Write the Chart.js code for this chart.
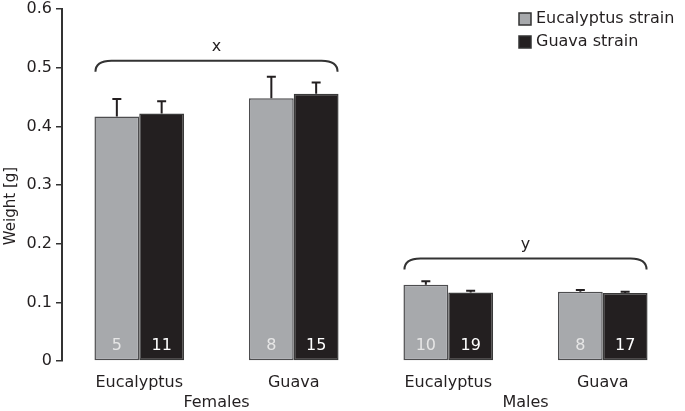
<!DOCTYPE html>
<html><head><meta charset="utf-8">
<script src="https://cdn.jsdelivr.net/npm/chart.js@4"></script>
<style>html,body{margin:0;padding:0;background:#fff}#wrap{width:685px;height:411px}</style>
</head><body><div id="wrap"><canvas id="c" width="685" height="411"></canvas></div>
<script>
const categories = ['Eucalyptus', 'Guava', 'Eucalyptus', 'Guava'];
const groups = ['Females', 'Males'];
const seriesNames = ['Eucalyptus strain', 'Guava strain'];
const eucalyptusStrain = [0.417, 0.448, 0.130, 0.118];
const guavaStrain = [0.422, 0.456, 0.117, 0.116];
const eucalyptusErrTop = [0.447, 0.485, 0.136, 0.121];
const guavaErrTop = [0.443, 0.475, 0.120, 0.118];
const eucalyptusN = [5, 8, 10, 8];
const guavaN = [11, 15, 19, 17];
const yTicks = [0, 0.1, 0.2, 0.3, 0.4, 0.5, 0.6];
const yTitle = 'Weight [g]';
const braceLabels = ['x', 'y'];
const braceLevels = [0.512, 0.175];

const FONT = 'DejaVu Sans';
Chart.defaults.font.family = FONT;
const INK = '#231f20';
const errTops = [eucalyptusErrTop, guavaErrTop];
const counts = [eucalyptusN, guavaN];
const countColors = ['#e6e6e6', '#ffffff'];

const overlay = {
  id: 'overlay',
  afterDatasetsDraw(chart) {
    const ctx = chart.ctx, ys = chart.scales.y, xs = chart.scales.x;
    ctx.save();
    chart.data.datasets.forEach((ds, di) => {
      const meta = chart.getDatasetMeta(di);
      meta.data.forEach((bar, i) => {
        const yt = ys.getPixelForValue(errTops[di][i]);
        ctx.strokeStyle = INK; ctx.lineWidth = 2;
        ctx.beginPath();
        ctx.moveTo(bar.x, bar.y); ctx.lineTo(bar.x, yt);
        ctx.moveTo(bar.x - 4.5, yt); ctx.lineTo(bar.x + 4.5, yt);
        ctx.stroke();
        ctx.fillStyle = countColors[di];
        ctx.font = '16px ' + FONT;
        ctx.textAlign = 'center'; ctx.textBaseline = 'middle';
        ctx.fillText(String(counts[di][i]), bar.x, ys.getPixelForValue(0) - 15);
      });
    });
    const m0 = chart.getDatasetMeta(0), m1 = chart.getDatasetMeta(1);
    groups.forEach((g, gi) => {
      const b0 = m0.data[gi * 2], b1 = m1.data[gi * 2 + 1];
      const left = b0.x - b0.width / 2, right = b1.x + b1.width / 2;
      const y = ys.getPixelForValue(braceLevels[gi]);
      ctx.strokeStyle = '#333'; ctx.lineWidth = 2;
      ctx.beginPath();
      ctx.moveTo(left + 1, y + 11);
      ctx.quadraticCurveTo(left + 1, y, left + 17, y);
      ctx.lineTo(right - 17, y);
      ctx.quadraticCurveTo(right - 1, y, right - 1, y + 11);
      ctx.stroke();
      ctx.fillStyle = INK; ctx.font = '16px ' + FONT;
      ctx.textAlign = 'center'; ctx.textBaseline = 'middle';
      ctx.fillText(braceLabels[gi], (left + right) / 2, y - 14);
      const cx = (xs.getPixelForValue(gi * 2) + xs.getPixelForValue(gi * 2 + 1)) / 2;
      ctx.fillText(g, cx, xs.top + 42);
    });
    ctx.save();
    ctx.translate(11, 206);
    ctx.rotate(-Math.PI / 2);
    ctx.fillStyle = INK; ctx.font = '15px ' + FONT;
    ctx.textAlign = 'center'; ctx.textBaseline = 'middle';
    ctx.fillText(yTitle, 0, 0);
    ctx.restore();
    chart.data.datasets.forEach((ds, di) => {
      const top = 13 + di * 23;
      ctx.fillStyle = ds.backgroundColor;
      ctx.fillRect(519, top, 12, 12);
      ctx.strokeStyle = '#333'; ctx.lineWidth = 1.5;
      ctx.strokeRect(519, top, 12, 12);
      ctx.fillStyle = INK; ctx.font = '16px ' + FONT;
      ctx.textAlign = 'left'; ctx.textBaseline = 'middle';
      ctx.fillText(ds.label, 536, top + 6);
    });
    ctx.restore();
  }
};

new Chart(document.getElementById('c'), {
  type: 'bar',
  data: {
    labels: categories,
    datasets: [
      { label: seriesNames[0], data: eucalyptusStrain, backgroundColor: '#a7a9ac', borderColor: '#4d4d4f', borderWidth: 1.5, borderSkipped: false },
      { label: seriesNames[1], data: guavaStrain, backgroundColor: INK, borderColor: '#3a3a3a', borderWidth: 1.5, borderSkipped: false }
    ]
  },
  options: {
    responsive: false, animation: false, devicePixelRatio: 1,
    layout: { padding: { top: 0, right: 5, left: 0, bottom: 0 } },
    datasets: { bar: { categoryPercentage: 0.58, barPercentage: 1 } },
    plugins: { legend: { display: false }, tooltip: { enabled: false } },
    scales: {
      x: {
        grid: { display: false, drawTicks: false, tickLength: 0 },
        border: { display: false },
        ticks: { font: { size: 16 }, color: INK, padding: 12, maxRotation: 0 },
        afterFit(s) { s.height = 50; }
      },
      y: {
        min: 0, max: 0.6,
        afterBuildTicks(s) { s.ticks = yTicks.map(v => ({ value: v })); },
        ticks: { font: { size: 16, lineHeight: 0.65 }, color: INK, padding: 4, callback: v => String(v) },
        grid: { drawOnChartArea: false, drawTicks: true, tickLength: 6, color: '#333', lineWidth: 1.5 },
        border: { display: true, color: '#333', width: 2 },
        afterFit(s) { s.width = 62; }
      }
    }
  },
  plugins: [overlay]
});
</script></body></html>
